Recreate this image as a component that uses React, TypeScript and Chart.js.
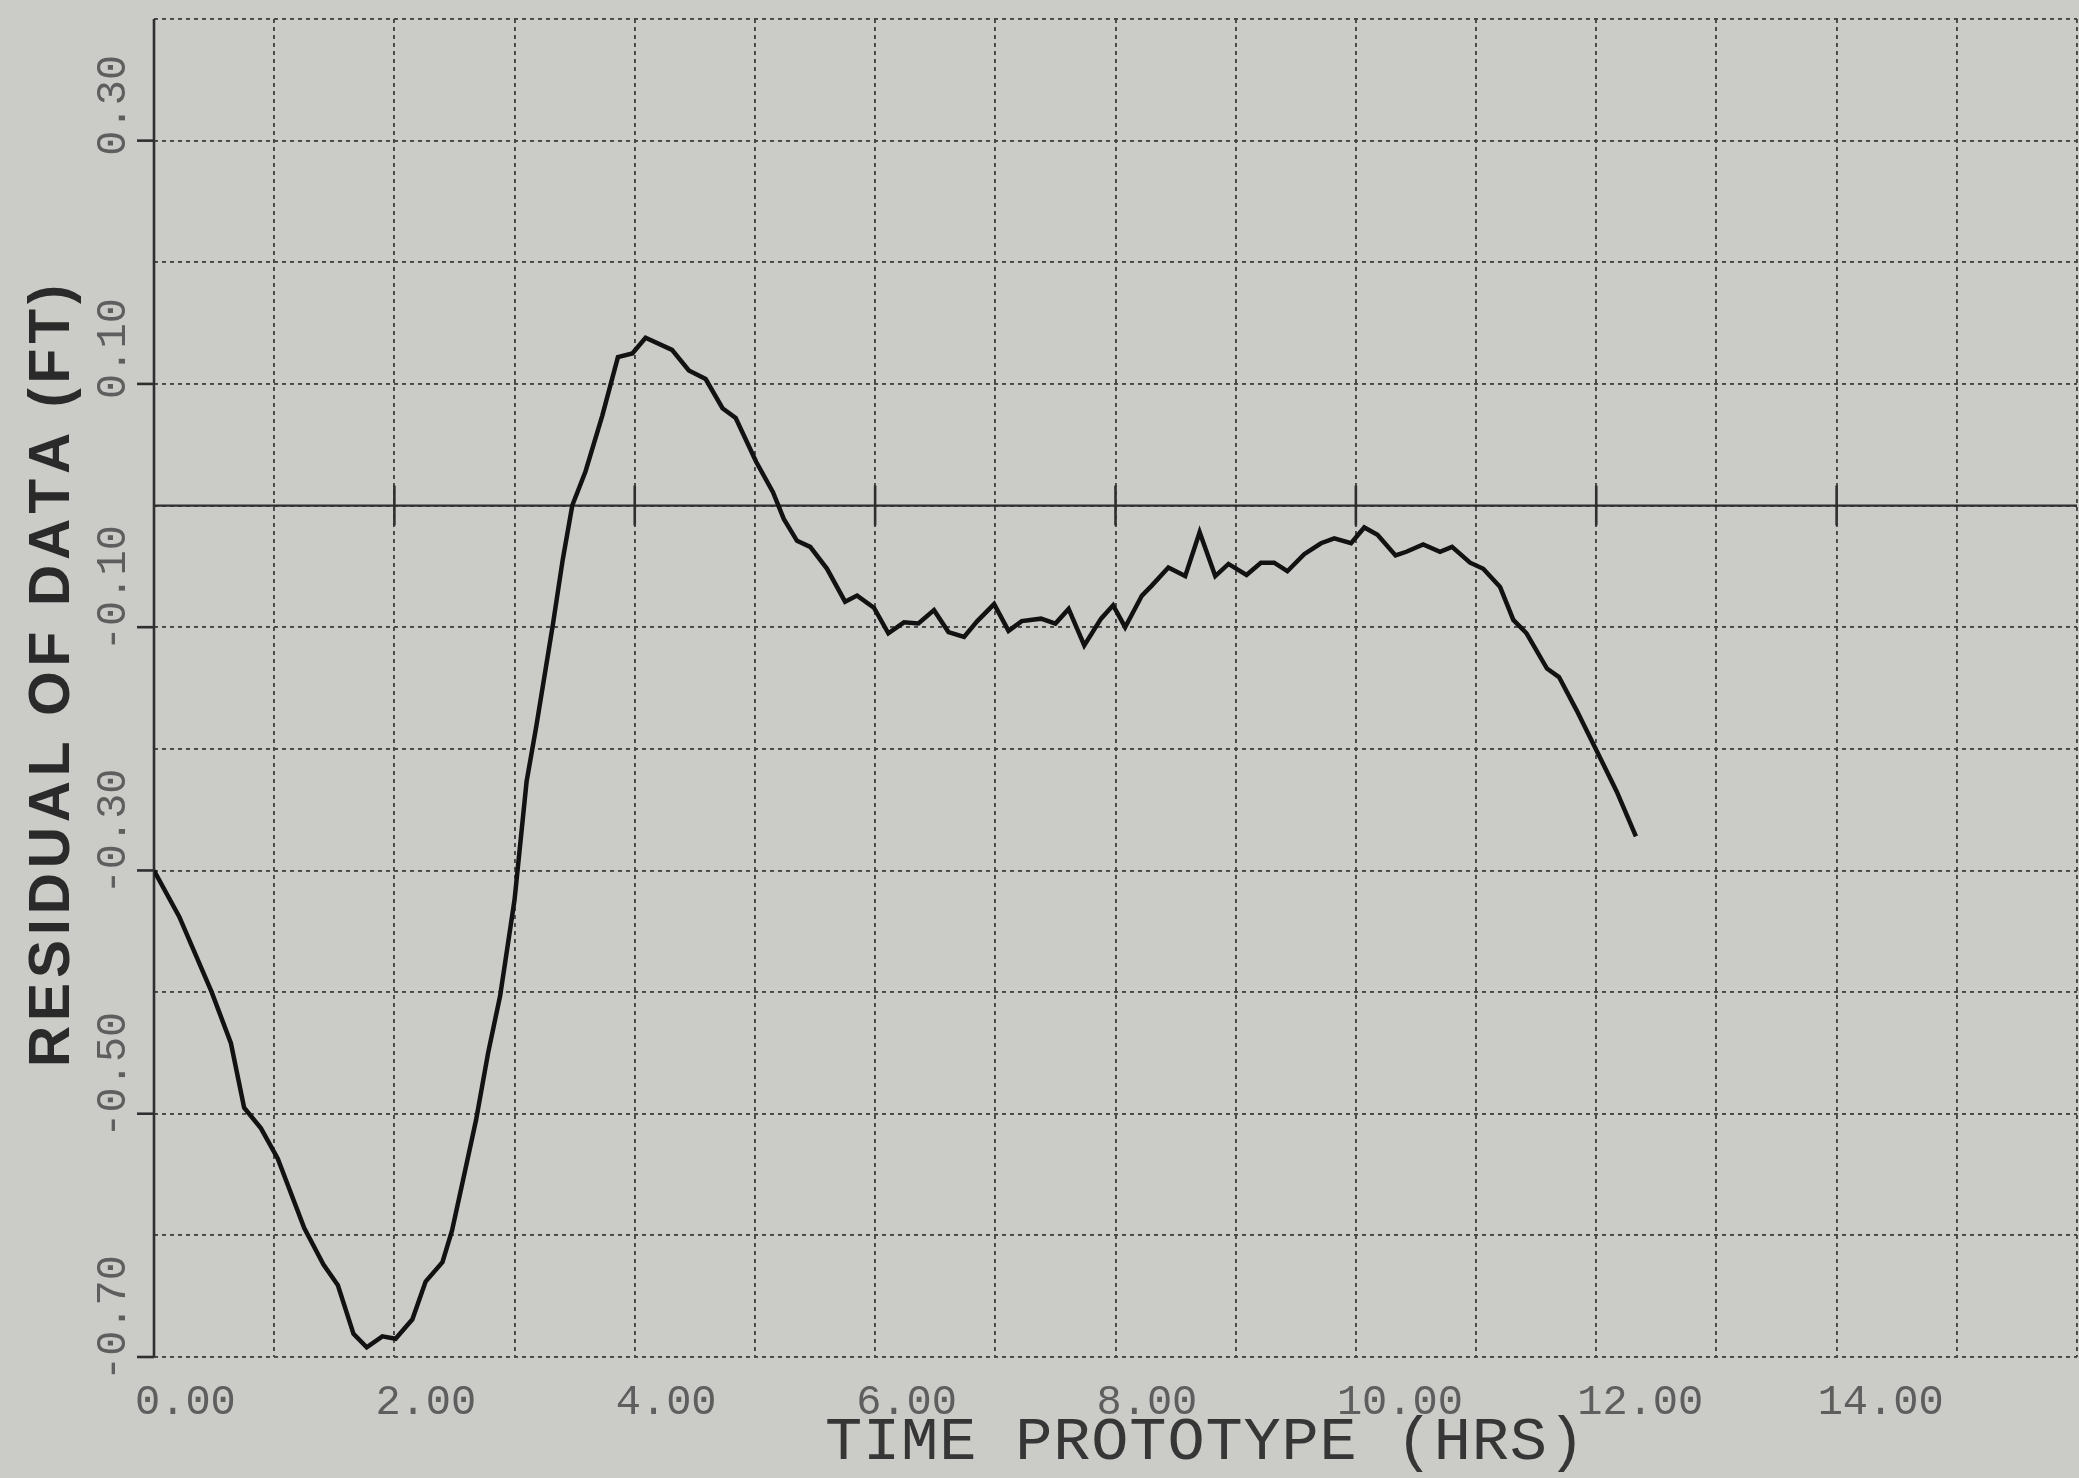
import React, { useEffect, useRef } from "react";
import { Chart, registerables } from "chart.js";

Chart.register(...registerables);

// ---- data (hours, residual in ft) ----
const HOURS = [
  0.0, 0.21, 0.48, 0.64, 0.75, 0.89, 1.03, 1.25, 1.41, 1.53,
  1.66, 1.77, 1.9, 2.01, 2.15, 2.26, 2.4, 2.48, 2.59, 2.68,
  2.78, 2.88, 3.0, 3.1, 3.18, 3.32, 3.4, 3.48, 3.59, 3.73,
  3.86, 3.98, 4.09, 4.31, 4.45, 4.59, 4.73, 4.84, 5.01, 5.15,
  5.24, 5.35, 5.46, 5.6, 5.75, 5.85, 5.99, 6.11, 6.24, 6.36,
  6.49, 6.61, 6.74, 6.85, 6.99, 7.11, 7.22, 7.38, 7.5, 7.61,
  7.74, 7.88, 7.98, 8.08, 8.22, 8.3, 8.44, 8.58, 8.7, 8.83,
  8.94, 9.09, 9.21, 9.32, 9.43, 9.57, 9.71, 9.82, 9.96, 10.07,
  10.18, 10.33, 10.42, 10.56, 10.7, 10.8, 10.95, 11.06, 11.2, 11.31,
  11.42, 11.59, 11.69, 11.84, 11.99, 12.17, 12.33,
];
const RESIDUAL = [
  -0.3, -0.338, -0.4, -0.442, -0.495, -0.512, -0.537, -0.594, -0.624, -0.641,
  -0.681, -0.692, -0.683, -0.685, -0.669, -0.638, -0.622, -0.596, -0.546, -0.505,
  -0.45, -0.403, -0.324, -0.227, -0.182, -0.097, -0.045, 0.0, 0.028, 0.074,
  0.122, 0.125, 0.138, 0.128, 0.111, 0.104, 0.08, 0.072, 0.036, 0.011,
  -0.011, -0.029, -0.034, -0.052, -0.079, -0.074, -0.084, -0.105, -0.096, -0.097,
  -0.086, -0.104, -0.108, -0.095, -0.081, -0.103, -0.095, -0.093, -0.097, -0.085,
  -0.115, -0.093, -0.082, -0.1, -0.074, -0.066, -0.051, -0.058, -0.022, -0.058,
  -0.048, -0.057, -0.047, -0.047, -0.054, -0.04, -0.031, -0.027, -0.031, -0.018,
  -0.024, -0.041, -0.038, -0.032, -0.038, -0.034, -0.047, -0.052, -0.067, -0.094,
  -0.105, -0.134, -0.141, -0.169, -0.199, -0.235, -0.272,
];

const X_TICKS = [0, 2, 4, 6, 8, 10, 12, 14];
const Y_TICKS = [0.3, 0.1, -0.1, -0.3, -0.5, -0.7];
const X_MIN = 0;
const X_MAX = 16;
const Y_MIN = -0.7;
const Y_MAX = 0.4;
const X_TITLE = "TIME PROTOTYPE (HRS)";
const Y_TITLE = "RESIDUAL OF DATA (FT)";

const W = 2079;
const H = 1478;
const BG = "#cbcbc8";

function spacedText(ctx: CanvasRenderingContext2D, text: string, cx: number, cy: number, width: number) {
  const chars = [...text];
  const ws = chars.map((c) => ctx.measureText(c).width);
  const natural = ws.reduce((a, b) => a + b, 0);
  const gap = chars.length > 1 ? (width - natural) / (chars.length - 1) : 0;
  let xx = cx - width / 2;
  ctx.textAlign = "left";
  chars.forEach((c, i) => {
    ctx.fillText(c, xx, cy);
    xx += ws[i] + gap;
  });
}

const overlayPlugin = {
  id: "plotterOverlay",
  beforeDatasetsDraw(chart: any) {
    const { ctx, chartArea, scales } = chart;
    const x = scales.x;
    const y = scales.y;
    const y0 = y.getPixelForValue(0);
    const lx = x.getPixelForValue(X_MIN);
    ctx.save();
    ctx.setLineDash([]);
    ctx.strokeStyle = "#2f2f2f";
    // zero line
    ctx.lineWidth = 2.2;
    ctx.beginPath();
    ctx.moveTo(chartArea.left, y0);
    ctx.lineTo(chartArea.right, y0);
    ctx.stroke();
    // ticks on zero line
    ctx.lineWidth = 2.6;
    X_TICKS.forEach((v) => {
      if (v === X_MIN) return;
      const px = x.getPixelForValue(v);
      ctx.beginPath();
      ctx.moveTo(px, y0 - 20);
      ctx.lineTo(px, y0 + 20);
      ctx.stroke();
    });
    // left axis
    ctx.lineWidth = 2.6;
    ctx.beginPath();
    ctx.moveTo(lx, chartArea.top);
    ctx.lineTo(lx, chartArea.bottom);
    ctx.stroke();
    // left ticks
    Y_TICKS.forEach((v) => {
      const py = y.getPixelForValue(v);
      ctx.beginPath();
      ctx.moveTo(lx - 17, py);
      ctx.lineTo(lx, py);
      ctx.stroke();
    });
    ctx.restore();
  },
  afterDraw(chart: any) {
    const { ctx, chartArea, scales } = chart;
    const x = scales.x;
    const y = scales.y;
    ctx.save();
    // tick labels
    ctx.font = "42px 'Liberation Mono', 'DejaVu Sans Mono', monospace";
    ctx.fillStyle = "#5e5e5e";
    ctx.textBaseline = "middle";
    ctx.textAlign = "left";
    X_TICKS.forEach((v) => {
      const px = x.getPixelForValue(v);
      ctx.fillText(v.toFixed(2), px - 19, chartArea.bottom + 46);
    });
    Y_TICKS.forEach((v) => {
      const py = y.getPixelForValue(v);
      const label = v.toFixed(2);
      const neg = label.startsWith("-");
      ctx.save();
      ctx.translate(114, py);
      ctx.rotate(-Math.PI / 2);
      ctx.textAlign = "left";
      ctx.fillText(label, neg ? -24 : -15, 0);
      ctx.restore();
    });
    // x title
    ctx.font = "62px 'Liberation Mono', 'DejaVu Sans Mono', monospace";
    ctx.fillStyle = "#363636";
    ctx.textBaseline = "middle";
    spacedText(ctx, X_TITLE, 1205, 1443, 760);
    // y title
    ctx.save();
    ctx.translate(53, 676);
    ctx.rotate(-Math.PI / 2);
    ctx.font = "bold 57px 'Liberation Sans', Arial, sans-serif";
    ctx.fillStyle = "#2a2a2a";
    ctx.textBaseline = "middle";
    spacedText(ctx, Y_TITLE, 0, 0, 782);
    ctx.restore();
    ctx.restore();
  },
};

const bgPlugin = {
  id: "bg",
  beforeDraw(chart: any) {
    const { ctx } = chart;
    ctx.save();
    ctx.fillStyle = BG;
    ctx.fillRect(0, 0, chart.width, chart.height);
    ctx.restore();
  },
};

export default function App() {
  const ref = useRef<HTMLCanvasElement | null>(null);
  useEffect(() => {
    if (!ref.current) return;
    const points = HOURS.map((h, i) => ({ x: h, y: RESIDUAL[i] }));
    const gridCommon = {
      color: "#454545",
      lineWidth: 1.9,
      drawTicks: false,
    };
    const chart = new Chart(ref.current, {
      type: "line",
      data: {
        datasets: [
          {
            data: points,
            borderColor: "#121212",
            borderWidth: 4.5,
            pointRadius: 0,
            tension: 0,
            fill: false,
          },
        ],
      },
      options: {
        responsive: false,
        maintainAspectRatio: false,
        devicePixelRatio: 1,
        animation: false,
        events: [],
        layout: { padding: { left: 154, right: 2, top: 19, bottom: H - 1357 } },
        plugins: { legend: { display: false }, tooltip: { enabled: false }, title: { display: false } },
        scales: {
          x: {
            type: "linear",
            min: X_MIN,
            max: X_MAX,
            ticks: { display: false, stepSize: 1 },
            grid: gridCommon,
            border: { display: false, dash: [4, 4] },
          },
          y: {
            type: "linear",
            min: Y_MIN,
            max: Y_MAX,
            ticks: { display: false, stepSize: 0.1 },
            grid: gridCommon,
            border: { display: false, dash: [4, 4] },
          },
        },
      },
      plugins: [bgPlugin, overlayPlugin],
    } as any);
    return () => chart.destroy();
  }, []);
  return (
    <div style={{ position: "fixed", left: 0, top: 0, width: W, height: H, background: BG }}>
      <canvas ref={ref} width={W} height={H} style={{ display: "block", width: W, height: H }} />
    </div>
  );
}
